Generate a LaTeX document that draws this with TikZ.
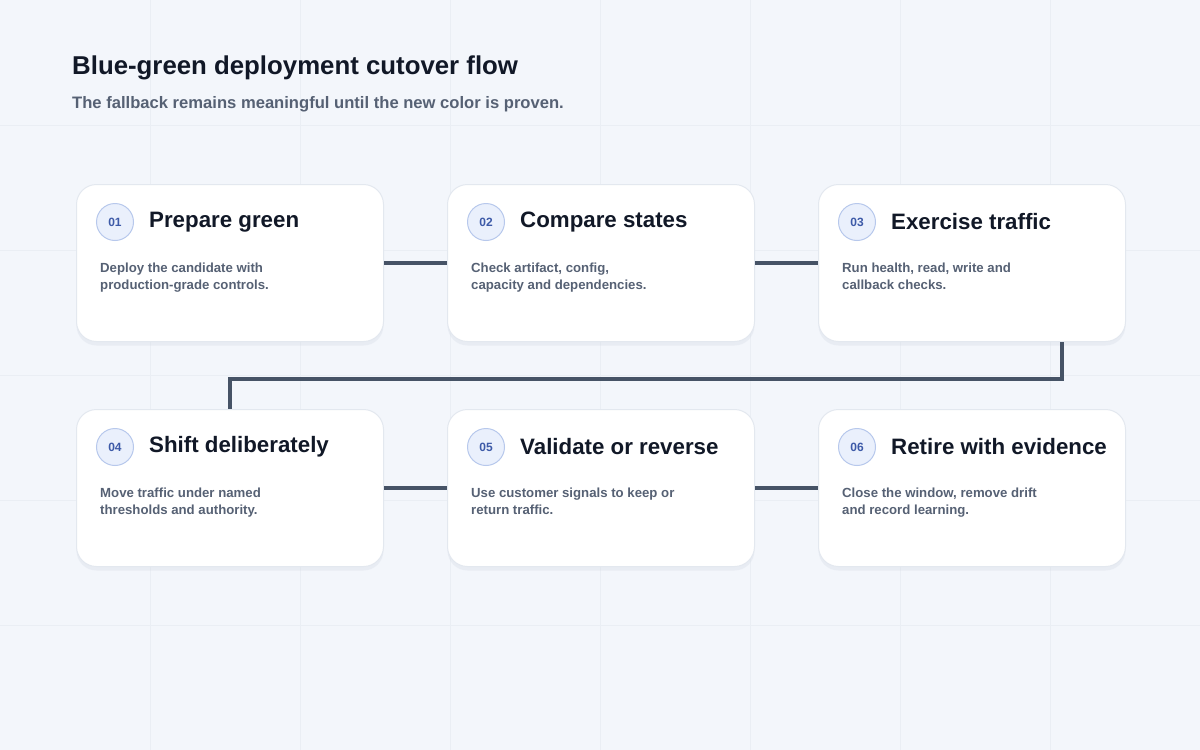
\documentclass[tikz,border=0pt]{standalone}
\usepackage{fontspec}
\setmainfont{Liberation Sans}
\usetikzlibrary{positioning,shadows}
\definecolor{bgcol}{HTML}{F3F6FB}
\definecolor{gridcol}{HTML}{EAEEF4}
\definecolor{inkcol}{HTML}{111827}
\definecolor{subcol}{HTML}{566174}
\definecolor{linkcol}{HTML}{465366}
\definecolor{badgefill}{HTML}{EAF0FC}
\definecolor{badgeline}{HTML}{B7C8EC}
\definecolor{badgetext}{HTML}{3D5AA8}
\definecolor{cardline}{HTML}{E3E8EF}
\definecolor{shadecol}{HTML}{D5DBE5}
\tikzset{
  card/.style={draw=cardline,line width=1pt,fill=white,rounded corners=20pt,
    minimum width=307pt,minimum height=157pt,anchor=north west,
    drop shadow={shadow xshift=0pt,shadow yshift=-4pt,fill=shadecol,opacity=0.35}},
  badge/.style={circle,draw=badgeline,line width=1pt,fill=badgefill,minimum size=37pt,inner sep=0pt,
    text=badgetext,font=\fontsize{12}{12}\bfseries\selectfont},
  steptitle/.style={anchor=west,inner sep=0pt,text=inkcol,font=\fontsize{22.3}{22}\bfseries\selectfont},
  stepbody/.style={anchor=north west,inner sep=0pt,text=subcol,align=left,
    font=\fontsize{13.2}{17}\bfseries\selectfont},
  link/.style={draw=linkcol,line width=3.5pt}
}
\begin{document}
\begin{tikzpicture}[x=1pt,y=-1pt]
\fill[bgcol] (0,0) rectangle (1200,750);
\useasboundingbox (0,0) rectangle (1200,750);
\foreach \gx in {150,300,...,1050} \draw[gridcol,line width=0.8pt] (\gx,0) -- (\gx,750);
\foreach \gy in {125,250,...,625} \draw[gridcol,line width=0.8pt] (0,\gy) -- (1200,\gy);
\node[anchor=west,inner sep=0pt,text=inkcol,font=\fontsize{25.8}{26}\bfseries\selectfont] (title) at (72,68) {Blue-green deployment cutover flow};
\node[anchor=west,inner sep=0pt,text=subcol,font=\fontsize{16.6}{17}\bfseries\selectfont] (subtitle) at (72,104) {The fallback remains meaningful until the new color is proven.};
% steps
\foreach \name/\x/\y/\num/\head/\body in {
  s1/76/184/01/Prepare green/{Deploy the candidate with\\production-grade controls.},
  s2/447/184/02/Compare states/{Check artifact, config,\\capacity and dependencies.},
  s3/818/184/03/Exercise traffic/{Run health, read, write and\\callback checks.},
  s4/76/409/04/Shift deliberately/{Move traffic under named\\thresholds and authority.},
  s5/447/409/05/Validate or reverse/{Use customer signals to keep or\\return traffic.},
  s6/818/409/06/Retire with evidence/{Close the window, remove drift\\and record learning.}}{
  \node[card] (\name) at (\x,\y) {};
  \node[badge] (\name b) at (\x+39,\y+38) {\num};
  \node[steptitle] (\name t) at (\x+73,\y+38) {\head};
  \node[stepbody] (\name d) at (\x+24,\y+79) {\body};
}
% connectors
\draw[link] (s1.east) -- (s2.west);
\draw[link] (s2.east) -- (s3.west);
\draw[link] (s4.east) -- (s5.west);
\draw[link] (s5.east) -- (s6.west);
\coordinate (turn) at (0,379);
\draw[link] ([xshift=90pt]s3.south) |- (turn -| s4.north) -- (s4.north);
\end{tikzpicture}
\end{document}
